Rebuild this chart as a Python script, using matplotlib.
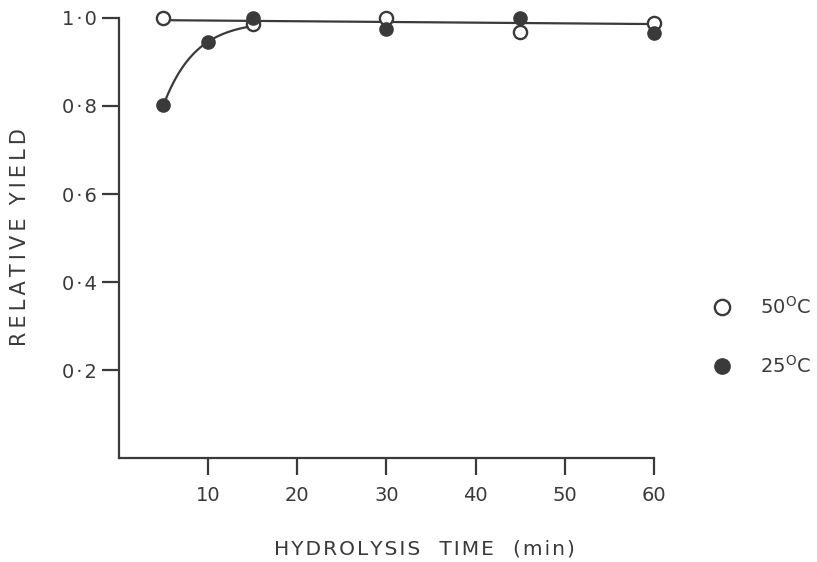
import numpy as np
import matplotlib.pyplot as plt

# data
time_50 = [5, 15, 30, 45, 60]
yield_50 = [1.0, 0.986, 1.0, 0.969, 0.988]
time_25 = [5, 10, 15, 30, 45, 60]
yield_25 = [0.802, 0.946, 1.0, 0.974, 1.0, 0.965]

# hand drawn plateau line (ends)
line_t = [5, 61]
line_y = [0.995, 0.986]

x_ticks = [10, 20, 30, 40, 50, 60]
y_ticks = [0.2, 0.4, 0.6, 0.8, 1.0]
y_labels = ['0\u200a·\u200a2', '0\u200a·\u200a4', '0\u200a·\u200a6', '0\u200a·\u200a8', '1\u200a·\u200a0']

ink = '#3a3a3a'
plt.rcParams['font.family'] = ['DejaVu Sans']


def spaced(s, sp='\u2009'):
    # wide letter spacing like the lettering in the original
    return sp.join(s)


fig = plt.figure(figsize=(8.17, 5.62), dpi=100)
ax = fig.add_axes([0.1455, 0.185, 0.655, 0.783])

ax.plot(line_t, line_y, color=ink, lw=1.6, zorder=2)

# rising curve for 25C: saturating exponential through the first two points
plateau = np.interp(15, line_t, line_y)
d5 = plateau - yield_25[0]
d10 = plateau - yield_25[1]
k = np.log(d5 / d10) / 5.0
t_c = np.linspace(5, 15, 60)
ax.plot(t_c, plateau - d5 * np.exp(-k * (t_c - 5)), color=ink, lw=1.6, zorder=2)

ax.plot(time_50, yield_50, 'o', ms=9.5, mfc='white', mec=ink, mew=1.7, zorder=3, clip_on=False)
ax.plot(time_25, yield_25, 'o', ms=9.5, mfc=ink, mec=ink, mew=1.0, zorder=4, clip_on=False)

ax.set_xlim(0, 60)
ax.set_ylim(0, 1.0)
ax.set_xticks(x_ticks)
ax.set_yticks(y_ticks)
ax.set_yticklabels(y_labels)
for s in ['top', 'right']:
    ax.spines[s].set_visible(False)
for s in ['left', 'bottom']:
    ax.spines[s].set_color(ink)
    ax.spines[s].set_linewidth(1.6)
ax.tick_params(axis='both', length=12, width=1.6, color=ink, labelcolor=ink,
               labelsize=14)
ax.tick_params(axis='y', pad=4)
ax.tick_params(axis='x', pad=8)

fig.text(0.024, 1 - 237 / 562, spaced('RELATIVE') + '  ' + spaced('YIELD'), rotation=90,
         ha='center', va='center', fontsize=15, color=ink)
fig.text(0.519, 1 - 549 / 562,
         spaced('HYDROLYSIS', '\u200a') + '   ' + spaced('TIME', '\u200a') + '   ' + spaced('(min)', '\u200a'),
         ha='center', va='center', fontsize=14.5, color=ink)

# legend drawn by hand
fig.lines.append(plt.Line2D([0.8835], [1 - 307 / 562], transform=fig.transFigure,
                            marker='o', ms=11, mfc='white', mec=ink, mew=1.7, ls=''))
fig.lines.append(plt.Line2D([0.8835], [1 - 366 / 562], transform=fig.transFigure,
                            marker='o', ms=11, mfc=ink, mec=ink, ls=''))
fig.text(0.930, 1 - 307 / 562, r'50$^{\mathrm{O}}$C', va='center', fontsize=14, color=ink)
fig.text(0.930, 1 - 366 / 562, r'25$^{\mathrm{O}}$C', va='center', fontsize=14, color=ink)

fig.savefig('out.png', dpi=100)
